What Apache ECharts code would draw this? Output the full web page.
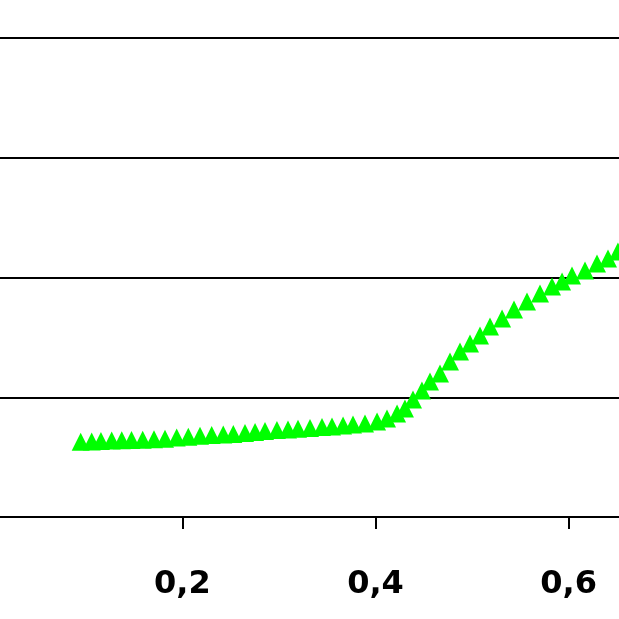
<!DOCTYPE html>
<html>
<head>
<meta charset="utf-8">
<script src="https://cdn.jsdelivr.net/npm/echarts@6/dist/echarts.min.js"></script>
<style>html,body{margin:0;padding:0;background:#fff;overflow:hidden;width:619px;height:619px;position:relative}#c{position:absolute;left:-60px;top:-100px;width:780px;height:780px}</style>
</head>
<body>
<div id="c"></div>
<script>
var xValues = [0.0948,0.1062,0.1158,0.1269,0.1373,0.1474,0.1590,0.1707,0.1821,0.1942,0.2062,0.2183,0.2304,0.2424,0.2528,0.2649,0.2753,0.2856,0.2980,0.3094,0.3198,0.3322,0.3446,0.3550,0.3664,0.3767,0.3891,0.4016,0.4119,0.4223,0.4305,0.4388,0.4481,0.4564,0.4668,0.4771,0.4875,0.4978,0.5082,0.5185,0.5310,0.5434,0.5568,0.5703,0.5827,0.5931,0.6034,0.6169,0.6293,0.6407,0.6510,0.6624];
var yValues = [0.628,0.630,0.635,0.639,0.641,0.643,0.646,0.650,0.653,0.664,0.670,0.678,0.685,0.689,0.693,0.701,0.710,0.718,0.727,0.731,0.737,0.743,0.752,0.756,0.764,0.772,0.781,0.797,0.823,0.864,0.906,0.981,1.056,1.132,1.198,1.299,1.382,1.449,1.516,1.591,1.658,1.733,1.800,1.866,1.925,1.967,2.017,2.058,2.117,2.159,2.217,2.267];
var xTickLabels = {0.2:'0,2', 0.4:'0,4', 0.6:'0,6'};

var data = xValues.map(function(x,i){return [x, yValues[i]];});
var chart = echarts.init(document.getElementById('c'), null, {renderer:'canvas'});
chart.setOption({
  animation:false,
  backgroundColor:'#ffffff',
  grid:{left:49.1, right:54.7, top:18.25, bottom:163, containLabel:false},
  xAxis:{
    type:'value', min:0, max:0.7, interval:0.2,
    axisLine:{show:true, lineStyle:{color:'#000', width:2}},
    axisTick:{show:true, length:12, lineStyle:{color:'#000', width:2}},
    splitLine:{show:false},
    axisLabel:{
      margin:52, fontSize:32, fontWeight:'bold', fontFamily:'DejaVu Sans', color:'#000',
      formatter:function(v){var k=Math.round(v*10)/10; return xTickLabels[k]||'';}
    }
  },
  yAxis:{
    type:'value', min:0, max:5, interval:1,
    axisLine:{show:false}, axisTick:{show:false}, axisLabel:{show:false},
    splitLine:{show:true, lineStyle:{color:'#000', width:2}}
  },
  series:[{
    type:'scatter', data:data, symbol:'triangle', symbolSize:[18,18],
    itemStyle:{color:'#00ff00', opacity:1}, clip:false
  }]
});
</script>
</body>
</html>
